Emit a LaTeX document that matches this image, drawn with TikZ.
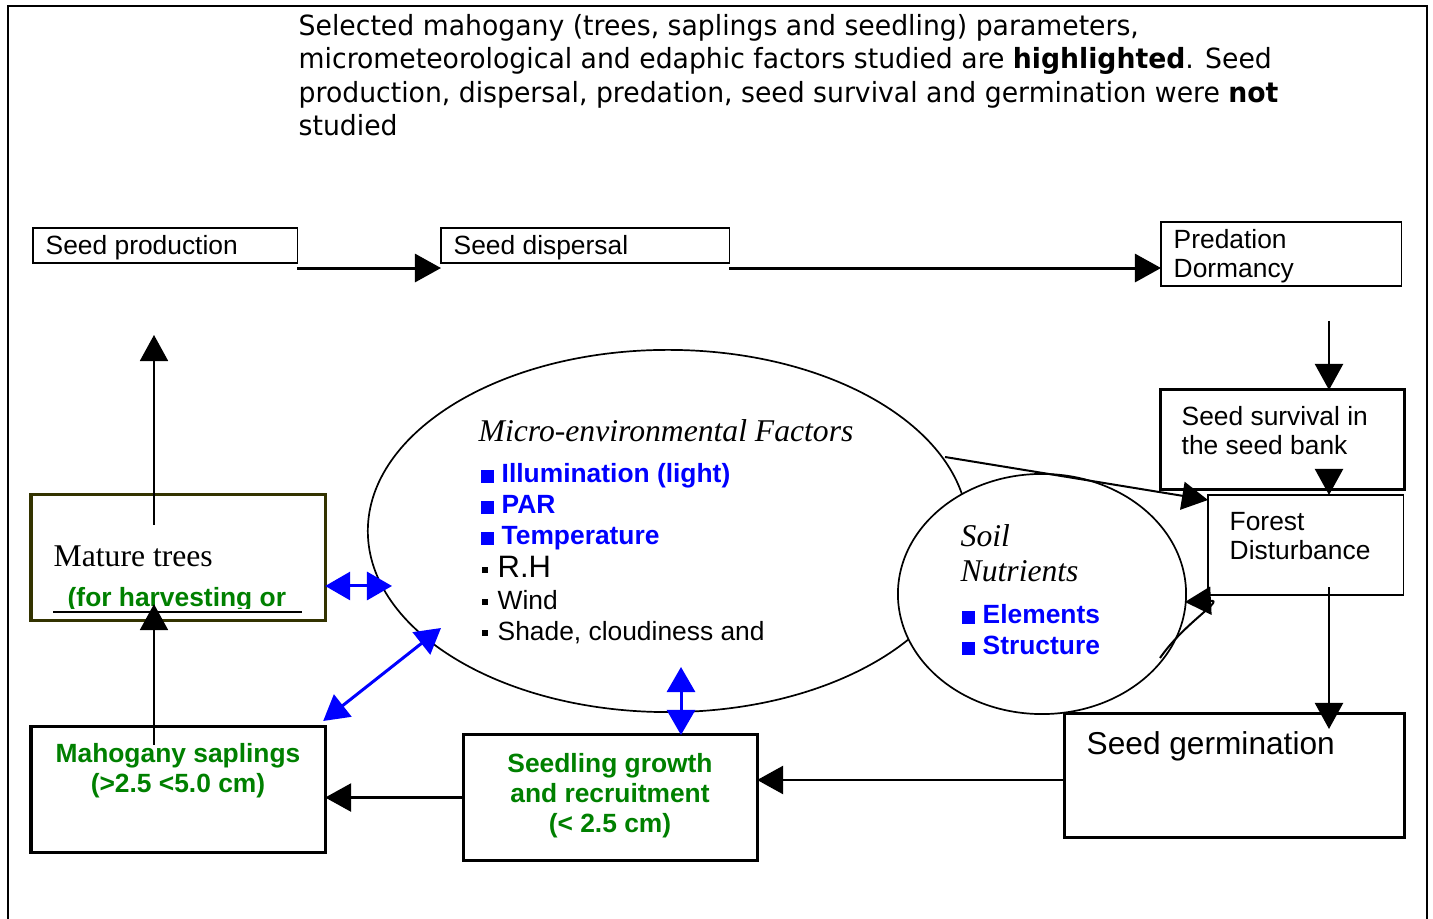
\documentclass[tikz,border=0pt]{standalone}
\usepackage{fontspec}
\setmainfont{Liberation Sans}
\newfontfamily\timesfont{Liberation Serif}
\newfontfamily\notefont[FakeStretch=0.96]{DejaVu Sans}
\usetikzlibrary{shapes.geometric,arrows.meta,calc}
\definecolor{leaf}{RGB}{0,128,0}
\definecolor{barkolive}{RGB}{51,51,0}
\newcommand{\bsq}{\textcolor{blue}{\rule{0.13cm}{0.13cm}}\hspace{0.08cm}}
\newcommand{\ksq}{\raisebox{0.05cm}{\rule{0.06cm}{0.06cm}}\hspace{0.1cm}}
\tikzset{
  box/.style={draw,inner sep=0pt,outer sep=0pt,anchor=north west,line width=0.012cm},
  heavy/.style={box,line width=0.03cm},
  lbl/.style={anchor=base west,inner sep=0pt,align=left,font=\fontsize{7.5}{8.3}\selectfont},
  big/.style={anchor=base west,inner sep=0pt,font=\fontsize{9}{10}\selectfont},
  serifit/.style={anchor=base west,inner sep=0pt,align=left,font=\timesfont\itshape\fontsize{9}{10}\selectfont},
  greenlbl/.style={anchor=base,inner sep=0pt,align=center,text=leaf,font=\bfseries\fontsize{7.5}{8.6}\selectfont},
  arr/.style={-{Triangle[length=0.26cm,width=0.28cm]},line width=0.022cm},
  biarr/.style={{Triangle[length=0.25cm,width=0.28cm]}-{Triangle[length=0.25cm,width=0.28cm]},blue,line width=0.03cm}
}
\begin{document}
\begin{tikzpicture}[x=0.01cm,y=-0.01cm]
  \useasboundingbox (0,0) rectangle (1433,919);
  \draw[line width=0.015cm] (8,919) -- (8,6) -- (1427,6) -- (1427,919);
  \node[anchor=base west,inner sep=0pt,align=left,font=\notefont\fontsize{7.9}{9.55}\selectfont] (note) at (298,136)
    {Selected mahogany (trees, saplings and seedling) parameters,\\
     micrometeorological and edaphic factors studied are \textbf{highlighted}. Seed\\
     production, dispersal, predation, seed survival and germination were \textbf{not}\\
     studied};
  % boxes
  \node[box,minimum width=2.64cm,minimum height=0.35cm] (prod) at (33,228) {};
  \node[box,minimum width=2.88cm,minimum height=0.35cm] (disp) at (441,228) {};
  \node[box,minimum width=2.40cm,minimum height=0.64cm] (pred) at (1161,222) {};
  \node[heavy,minimum width=2.44cm,minimum height=0.99cm] (surv) at (1160,390) {};
  \node[box,minimum width=1.95cm,minimum height=1.00cm] (forest) at (1208,495) {};
  \node[heavy,minimum width=3.40cm,minimum height=1.23cm] (germ) at (1064,714) {};
  \node[heavy,minimum width=2.94cm,minimum height=1.25cm] (seedl) at (463,735) {};
  \node[heavy,minimum width=2.94cm,minimum height=1.25cm] (sapl) at (31,727) {};
  \node[ellipse,draw,line width=0.017cm,inner sep=0pt,minimum width=6cm,minimum height=3.62cm] (micro) at (668,531) {};
  \node[ellipse,draw,fill=white,line width=0.017cm,inner sep=0pt,minimum width=2.88cm,minimum height=2.4cm] (soil) at (1042,594) {};
  % texts
  \node[lbl] (prodtxt) at (45,255) {Seed production};
  \node[lbl] (disptxt) at (453,255) {Seed dispersal};
  \node[lbl] (predtxt) at (1173,278) {Predation\\Dormancy};
  \node[lbl] (survtxt) at (1181,455) {Seed survival in\\the seed bank};
  \node[lbl] (foresttxt) at (1229,560) {Forest\\Disturbance};
  \node[big] (germtxt) at (1086,755) {Seed germination};
  \node[greenlbl] (seedltxt) at (610,833) {Seedling growth\\and recruitment\\(< 2.5 cm)};
  \node[greenlbl] (sapltxt) at (178,793) {Mahogany saplings\\(>2.5 <5.0 cm)};
  \node[big,font=\timesfont\fontsize{9}{10}\selectfont] (maturetxt) at (53,567) {Mature trees};
  \begin{scope}
    \clip (31,495) rectangle (325,609);
    \node[lbl,text=leaf,font=\bfseries\fontsize{7.5}{8.3}\selectfont] (usetxt) at (67,607) {(for harvesting or};
  \end{scope}
  \node[box,draw=barkolive,line width=0.03cm,minimum width=2.94cm,minimum height=1.25cm] (mature) at (31,495) {};
  \draw[line width=0.025cm] (53,612) -- (302,612);
  \node[serifit] (microtxt) at (478,442) {Micro-environmental Factors};
  \node[lbl,text=blue,font=\bfseries\fontsize{7.5}{8.3}\selectfont] (light) at (480,483) {\bsq Illumination (light)};
  \node[lbl,text=blue,font=\bfseries\fontsize{7.5}{8.3}\selectfont] (par) at (480,514) {\bsq PAR};
  \node[lbl,text=blue,font=\bfseries\fontsize{7.5}{8.3}\selectfont] (temp) at (480,545) {\bsq Temperature};
  \node[lbl,font=\fontsize{8.8}{10}\selectfont] (rh) at (481,578) {\ksq R.H};
  \node[lbl] (wind) at (481,610) {\ksq Wind};
  \node[lbl] (shade) at (481,641) {\ksq Shade, cloudiness and};
  \node[serifit] (soiltxt) at (960,547) {Soil};
  \node[serifit] (nutrtxt) at (960,582) {Nutrients};
  \node[lbl,text=blue,font=\bfseries\fontsize{7.5}{8.3}\selectfont] (elem) at (961,624) {\bsq Elements};
  \node[lbl,text=blue,font=\bfseries\fontsize{7.5}{8.3}\selectfont] (struct) at (961,655) {\bsq Structure};
  % connectors
  \coordinate (d1) at ([yshift=-0.05cm]disp.south east);
  \draw[arr,line width=0.03cm] ([yshift=-0.05cm]prod.south east) -- ([yshift=-0.05cm]disp.south west);
  \draw[arr,line width=0.03cm] (d1) -- (d1 -| pred.west);
  \coordinate (drop) at (1329,321);
  \draw[arr] (drop) -- (drop |- surv.north);
  \draw[arr] (drop |- surv.south) -- (drop |- forest.north);
  \draw[arr] ($(drop |- forest.south)+(0,-8)$) -- ($(drop |- germ.north)+(0,15)$);
  \coordinate (g1) at ($(germ.north west)+(0,66)$);
  \draw[arr,line width=0.028cm] (g1) -- (g1 -| seedl.east);
  \draw[arr,line width=0.028cm] (seedl.west) -- (seedl.west -| sapl.east);
  \coordinate (trunk) at (154,745);
  \draw[arr,line width=0.018cm] (trunk) -- ($(trunk |- mature.south)+(0,-16)$);
  \coordinate (crown) at (154,335);
  \draw[arr,line width=0.018cm] ($(crown |- mature.north)+(0,30)$) -- (crown);
  \coordinate (mne) at (945,457);
  \draw[arr,line width=0.02cm] (mne) -- ($(forest.north west)+(0,5)$);
  \coordinate (hk) at (1160,658);
  \draw[arr,line width=0.02cm] (hk) .. controls (1185,622) and (1225,600) .. ($(soil.east)+(-2,8)$);
  \coordinate (mw) at (392,586);
  \draw[biarr] (mw -| mature.east) -- (mw);
  \coordinate (msw) at (441,628);
  \draw[biarr] ($(sapl.north east)+(-2,-6)$) -- (msw);
  \coordinate (ms) at (681,667);
  \draw[biarr] (ms) -- (ms |- seedl.north);
\end{tikzpicture}
\end{document}
